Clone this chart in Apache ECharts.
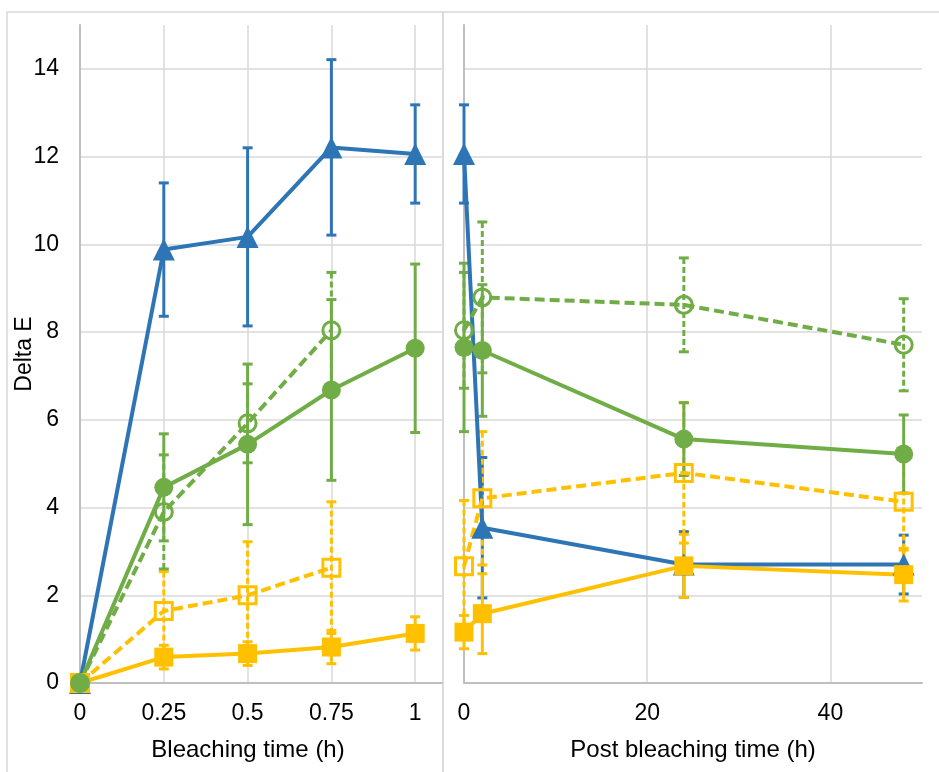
<!DOCTYPE html>
<html>
<head>
<meta charset="utf-8">
<script src="https://cdn.jsdelivr.net/npm/echarts@6/dist/echarts.min.js"></script>
<style>
  html, body { margin: 0; padding: 0; background: #fff; }
  #chart { width: 939px; height: 772px; }
</style>
</head>
<body>
<div id="chart"></div>
<script>
// x values
const bleachTime = [0, 0.25, 0.5, 0.75, 1];
const postTime = [0, 2, 24, 48];

// Delta E during bleaching (left panel)
const blueBleach = [0, 9.88, 10.17, 12.21, 12.06];
const blueBleachErr = [0, 1.52, 2.03, 2.0, 1.12];
const greenBleach = [0, 4.46, 5.44, 6.68, 7.63];
const greenBleachErr = [0, 1.22, 1.83, 2.06, 1.92];
const greenOpenBleach = [0, 3.9, 5.92, 8.04];
const greenOpenBleachErr = [0, 1.3, 0.9, 1.32];
const yellowOpenBleach = [0, 1.64, 2.0, 2.63];
const yellowOpenBleachErr = [0, 0.9, 1.22, 1.5];
const yellowBleach = [0, 0.59, 0.67, 0.82, 1.13];
const yellowBleachErr = [0, 0.27, 0.27, 0.38, 0.38];

// Delta E after bleaching (right panel)
const bluePost = [12.06, 3.54, 2.70, 2.70];
const bluePostErr = [1.12, 1.6, 0.75, 0.67];
const greenPost = [7.65, 7.58, 5.56, 5.22];
const greenPostErr = [1.92, 1.5, 0.83, 0.89];
const greenOpenPost = [8.04, 8.79, 8.62, 7.71];
const greenOpenPostErr = [1.32, 1.72, 1.07, 1.05];
const yellowOpenPost = [2.66, 4.21, 4.79, 4.13];
const yellowOpenPostErr = [1.5, 1.52, 1.6, 1.1];
const yellowPost = [1.16, 1.58, 2.67, 2.47];
const yellowPostErr = [0.38, 0.91, 0.72, 0.6];

const BLUE = '#2e75b6', GREEN = '#70ad47', YELLOW = '#ffc000';
const DASH = [10, 5];

function pts(xs, ys) {
  return ys.map((y, i) => [xs[i], y]);
}
function errPts(xs, ys, es) {
  return ys.map((y, i) => [xs[i], y, es[i]]);
}

function errSeries(panel, xs, ys, es, color, dashed) {
  return {
    type: 'custom',
    xAxisIndex: panel, yAxisIndex: panel,
    z: 1,
    silent: true,
    data: errPts(xs, ys, es),
    renderItem: function (params, api) {
      const x = api.value(0), y = api.value(1), e = api.value(2);
      if (!e) return;
      const top = api.coord([x, y + e]);
      const bot = api.coord([x, y - e]);
      const st = { stroke: color, lineWidth: 3, lineDash: dashed ? [6, 3] : null };
      return {
        type: 'group',
        children: [
          { type: 'line', shape: { x1: top[0], y1: top[1], x2: bot[0], y2: bot[1] }, style: st },
          { type: 'line', shape: { x1: top[0] - 5, y1: top[1], x2: top[0] + 5, y2: top[1] }, style: { stroke: color, lineWidth: 3 } },
          { type: 'line', shape: { x1: bot[0] - 5, y1: bot[1], x2: bot[0] + 5, y2: bot[1] }, style: { stroke: color, lineWidth: 3 } }
        ]
      };
    }
  };
}

function lineSeries(panel, xs, ys, color, symbol, size, open, dashed) {
  return {
    type: 'line',
    xAxisIndex: panel, yAxisIndex: panel,
    data: pts(xs, ys),
    symbol: symbol,
    symbolSize: size,
    showAllSymbol: true,
    animation: false,
    lineStyle: { color: color, width: 4, type: dashed ? DASH : 'solid' },
    itemStyle: open
      ? { color: 'rgba(255,255,255,0)', borderColor: color, borderWidth: 3 }
      : { color: color, borderWidth: 0 }
  };
}

const series = [];
[[0, bleachTime], [1, postTime]].forEach(([p, xs]) => {
  const d = p === 0
    ? [blueBleach, blueBleachErr, yellowOpenBleach, yellowOpenBleachErr, yellowBleach, yellowBleachErr,
       greenOpenBleach, greenOpenBleachErr, greenBleach, greenBleachErr]
    : [bluePost, bluePostErr, yellowOpenPost, yellowOpenPostErr, yellowPost, yellowPostErr,
       greenOpenPost, greenOpenPostErr, greenPost, greenPostErr];
  series.push(errSeries(p, xs, d[0], d[1], BLUE, false));
  series.push(errSeries(p, xs, d[2], d[3], YELLOW, true));
  series.push(errSeries(p, xs, d[4], d[5], YELLOW, false));
  series.push(errSeries(p, xs, d[6], d[7], GREEN, true));
  series.push(errSeries(p, xs, d[8], d[9], GREEN, false));
  series.push(lineSeries(p, xs, d[0], BLUE, 'triangle', 22, false, false));
  series.push(lineSeries(p, xs, d[2], YELLOW, 'rect', 17, true, true));
  series.push(lineSeries(p, xs, d[4], YELLOW, 'rect', 19, false, false));
  series.push(lineSeries(p, xs, d[6], GREEN, 'circle', 17, true, true));
  series.push(lineSeries(p, xs, d[8], GREEN, 'circle', 19, false, false));
});

const FONT = 'Liberation Sans, Arial, sans-serif';
const gridColor = '#d9d9d9';
const axisColor = '#bfbfbf';

function xAxis(grid, max, interval, name, pad) {
  return {
    type: 'value', gridIndex: grid, min: 0, max: max, interval: interval,
    name: name, nameLocation: 'middle', nameGap: 55, nameMoveOverlap: false,
    nameTextStyle: { fontFamily: FONT, fontSize: 24, color: '#000', padding: pad },
    axisLine: { show: true, lineStyle: { color: axisColor, width: 2 } },
    axisTick: { show: false },
    axisLabel: { fontFamily: FONT, fontSize: 23, color: '#000', margin: 19, showMaxLabel: false },
    splitLine: { show: true, showMaxLine: false, lineStyle: { color: gridColor, width: 1.5 } }
  };
}
function yAxis(grid, labels) {
  return {
    type: 'value', gridIndex: grid, min: 0, max: 15, interval: 2,
    name: labels ? 'Delta E' : '', nameLocation: 'middle', nameGap: 44, nameRotate: 90,
    nameMoveOverlap: false,
    nameTextStyle: { fontFamily: FONT, fontSize: 23, color: '#000' },
    axisLine: { show: true, lineStyle: { color: axisColor, width: 2 } },
    axisTick: { show: false },
    axisLabel: { show: labels, fontFamily: FONT, fontSize: 23, color: '#000', margin: 21, showMaxLabel: false },
    splitLine: { show: true, showMaxLine: false, lineStyle: { color: gridColor, width: 1.5 } }
  };
}

const chart = echarts.init(document.getElementById('chart'));
chart.setOption({
  backgroundColor: '#fff',
  animation: false,
  graphic: [
    { type: 'rect', shape: { x: 7, y: 12, width: 436, height: 800 }, style: { fill: 'none', stroke: gridColor, lineWidth: 1.5 }, z: -10 },
    { type: 'rect', shape: { x: 443, y: 12, width: 520, height: 800 }, style: { fill: 'none', stroke: gridColor, lineWidth: 1.5 }, z: -10 }
  ],
  grid: [
    { left: 80, right: 497, top: 25, bottom: 89, outerBoundsMode: 'none', containLabel: false },
    { left: 464, right: 17, top: 25, bottom: 89, outerBoundsMode: 'none', containLabel: false }
  ],
  xAxis: [
    xAxis(0, 1.08, 0.25, 'Bleaching time (h)', [0, 26, 0, 0]),
    xAxis(1, 50, 20, 'Post bleaching time (h)', 0)
  ],
  yAxis: [yAxis(0, true), yAxis(1, false)],
  series: series
});
</script>
</body>
</html>
